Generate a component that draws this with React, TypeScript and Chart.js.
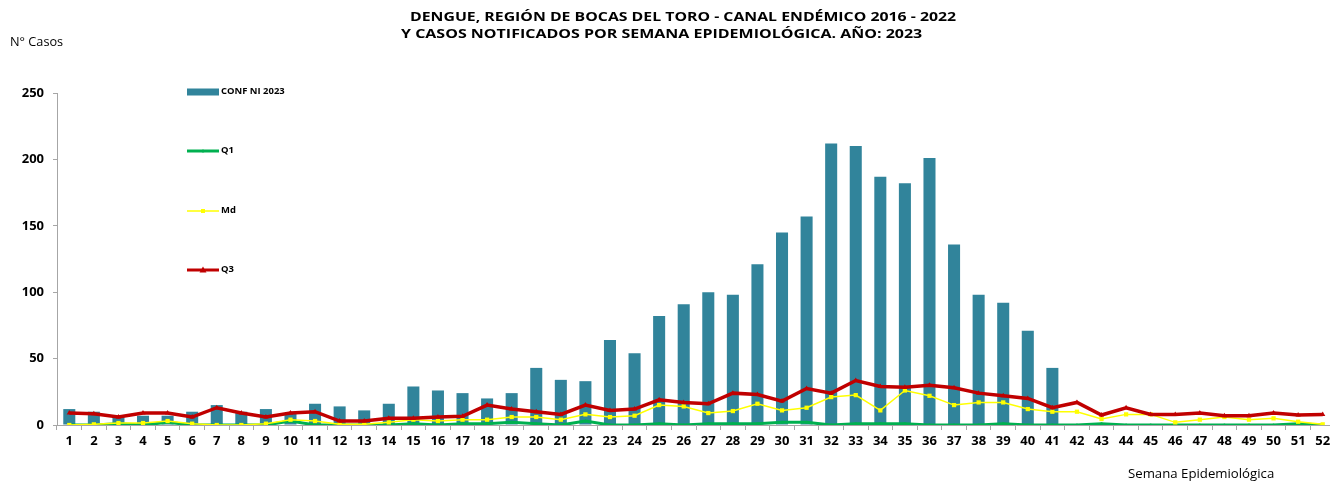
import React, { useEffect, useRef } from 'react';
import { Chart, registerables } from 'chart.js';

Chart.register(...registerables);

const weeks: string[] = [
  '1','2','3','4','5','6','7','8','9','10','11','12','13','14','15','16','17','18','19','20','21','22','23','24','25','26',
  '27','28','29','30','31','32','33','34','35','36','37','38','39','40','41','42','43','44','45','46','47','48','49','50','51','52',
];

const confNi2023: (number | null)[] = [
  12, 10, 7, 7, 7, 10, 15, 10, 12, 9, 16, 14, 11, 16, 29, 26, 24, 20, 24, 43, 34, 33, 64, 54, 82, 91,
  100, 98, 121, 145, 157, 212, 210, 187, 182, 201, 136, 98, 92, 71, 43, 0, 0, 0, 0, 0, 0, 0, 0, 0, 0, 0,
];

const q1: number[] = [
  0, 0, 1, 0, 2, 0, 0, 0, 0, 3, 0, 0, 0, 0, 1, 0, 1, 1, 2, 1, 0, 3, 0, 0, 1, 0,
  1, 1, 1, 2, 2, 0, 1, 1, 1, 0, 0, 0, 1, 0, 0, 0, 1, 0, 0, 0, 0, 0, 0, 0, 1, 0,
];

const md: number[] = [
  0, 0.5, 1.5, 1.5, 3, 1, 0, 0, 1, 4, 3, 0.5, 0.5, 2, 4, 3, 4, 4, 6, 6, 4, 8, 6, 7, 15, 14,
  9, 10.5, 16, 11, 13, 21, 22.5, 11, 26, 22, 15, 17, 17, 12, 10, 10, 4.5, 8, 8, 2, 4, 6, 4, 5, 2.5, 0.5,
];

const q3: number[] = [
  9, 8.5, 6, 9, 9, 6, 13, 9, 6, 9, 10, 3, 3, 5, 5, 6, 6.5, 15, 12, 10, 8, 15, 11, 12, 19, 17,
  16, 24, 23, 18, 27.5, 24, 33.5, 29, 28.5, 30, 28, 24, 22, 20, 13, 17, 7.5, 13, 8, 8, 9, 7, 7, 9, 7.5, 8,
];

const yTicks: number[] = [0, 50, 100, 150, 200, 250];

const legendLabels: string[] = ['CONF NI 2023', 'Q1', 'Md', 'Q3'];

const BAR_COLOR = '#31849B';
const Q1_COLOR = '#00B050';
const MD_COLOR = '#FFFF00';
const Q3_COLOR = '#C00000';

const FONT = '"Open Sans", "DejaVu Sans", sans-serif';

const legendPlugin = {
  id: 'customLegend',
  afterDraw(chart: any) {
    const ctx = chart.ctx as CanvasRenderingContext2D;
    const x0 = 187;
    const ys = [92, 151, 211, 270];
    const boxW = 32;
    ctx.save();
    ys.forEach((y, i) => {
      if (i === 0) {
        ctx.fillStyle = BAR_COLOR;
        ctx.fillRect(x0, y - 3.5, boxW, 7);
      } else {
        const color = i === 1 ? Q1_COLOR : i === 2 ? MD_COLOR : Q3_COLOR;
        ctx.strokeStyle = color;
        ctx.lineWidth = i === 2 ? 1.5 : 3;
        ctx.beginPath();
        ctx.moveTo(x0, y);
        ctx.lineTo(x0 + boxW, y);
        ctx.stroke();
        ctx.fillStyle = color;
        const cx = x0 + boxW / 2;
        if (i === 2) {
          ctx.fillRect(cx - 2, y - 2, 4, 4);
        } else if (i === 3) {
          ctx.beginPath();
          ctx.moveTo(cx, y - 3.5);
          ctx.lineTo(cx + 3.5, y + 2.5);
          ctx.lineTo(cx - 3.5, y + 2.5);
          ctx.closePath();
          ctx.fill();
        } else {
          ctx.beginPath();
          ctx.arc(cx, y, 1.5, 0, Math.PI * 2);
          ctx.fill();
        }
      }
      ctx.save();
      ctx.translate(x0 + boxW + 2, y);
      ctx.scale(1.18, 1);
      ctx.fillStyle = '#000';
      ctx.font = 'bold 8px ' + FONT;
      ctx.textBaseline = 'middle';
      ctx.textAlign = 'left';
      ctx.fillText(legendLabels[i], 0, 0);
      ctx.restore();
    });
    ctx.restore();
  },
};

function ChartCanvas() {
  const ref = useRef<HTMLCanvasElement | null>(null);
  useEffect(() => {
    if (!ref.current) return;
    const chart = new Chart(ref.current, {
      type: 'bar',
      data: {
        labels: weeks,
        datasets: [
          {
            type: 'bar',
            label: legendLabels[0],
            data: confNi2023,
            backgroundColor: BAR_COLOR,
            borderWidth: 0,
            categoryPercentage: 1,
            barPercentage: 0.49,
            order: 4,
          },
          {
            type: 'line',
            label: legendLabels[1],
            data: q1,
            borderColor: Q1_COLOR,
            backgroundColor: Q1_COLOR,
            borderWidth: 3,
            pointRadius: 1.5,
            pointBorderWidth: 0,
            tension: 0,
            order: 3,
          },
          {
            type: 'line',
            label: legendLabels[2],
            data: md,
            borderColor: MD_COLOR,
            backgroundColor: MD_COLOR,
            borderWidth: 1.5,
            pointStyle: 'rect',
            pointRadius: 3,
            pointBorderWidth: 0,
            tension: 0,
            order: 2,
          },
          {
            type: 'line',
            label: legendLabels[3],
            data: q3,
            borderColor: Q3_COLOR,
            backgroundColor: Q3_COLOR,
            borderWidth: 3.5,
            pointStyle: 'triangle',
            pointRadius: 3,
            pointBorderWidth: 0,
            tension: 0,
            order: 1,
          },
        ],
      },
      options: {
        animation: false,
        responsive: false,
        devicePixelRatio: 1,
        layout: { padding: { top: 93, left: 0, right: 0, bottom: 0 } },
        plugins: {
          legend: { display: false },
          title: { display: false },
          tooltip: { enabled: false },
        },
        scales: {
          x: {
            offset: true,
            grid: {
              offset: true,
              drawOnChartArea: false,
              drawTicks: true,
              tickLength: 5,
              color: '#A6A6A6',
            },
            border: { color: '#A6A6A6', width: 1 },
            ticks: {
              color: '#000',
              font: { family: FONT, size: 13, weight: 'bold' },
              maxRotation: 0,
              autoSkip: false,
              padding: 3,
            },
            afterFit(scale: any) {
              scale.height = 56;
            },
          },
          y: {
            min: 0,
            max: 250,
            afterBuildTicks(scale: any) {
              scale.ticks = yTicks.map((v) => ({ value: v }));
            },
            grid: {
              drawOnChartArea: false,
              drawTicks: true,
              tickLength: 4,
              color: '#A6A6A6',
            },
            border: { color: '#A6A6A6', width: 1 },
            ticks: {
              color: '#000',
              font: { family: FONT, size: 13, weight: 'bold' },
              padding: 9,
            },
            afterFit(scale: any) {
              scale.width = 57;
            },
          },
        },
      },
      plugins: [legendPlugin],
    } as any);
    return () => chart.destroy();
  }, []);
  return <canvas ref={ref} width={1339} height={481} style={{ display: 'block' }} />;
}

const textBase: React.CSSProperties = {
  position: 'absolute',
  whiteSpace: 'nowrap',
  color: '#000',
  transformOrigin: 'left center',
};

export default function App() {
  return (
    <div
      style={{
        position: 'fixed',
        left: 0,
        top: 0,
        width: 1330,
        height: 481,
        overflow: 'hidden',
        background: '#fff',
        fontFamily: FONT,
      }}
    >
      <div style={{ position: 'absolute', left: 0, top: 0, width: 1339, height: 481 }}>
        <ChartCanvas />
      </div>
      <div
        style={{
          ...textBase,
          left: 410,
          top: 8,
          fontSize: 13,
          fontWeight: 'bold',
          lineHeight: '16px',
          transform: 'scaleX(1.217)',
        }}
      >
        DENGUE, REGIÓN DE BOCAS DEL TORO - CANAL ENDÉMICO 2016 - 2022
      </div>
      <div
        style={{
          ...textBase,
          left: 401,
          top: 25,
          fontSize: 13,
          fontWeight: 'bold',
          lineHeight: '16px',
          transform: 'scaleX(1.23)',
        }}
      >
        Y CASOS NOTIFICADOS POR SEMANA EPIDEMIOLÓGICA. AÑO: 2023
      </div>
      <div
        style={{
          ...textBase,
          left: 10,
          top: 34,
          fontSize: 12,
          lineHeight: '16px',
          transform: 'scaleX(1.06)',
        }}
      >
        N° Casos
      </div>
      <div
        style={{
          ...textBase,
          left: 1128,
          top: 466,
          fontSize: 12,
          lineHeight: '16px',
          transform: 'scaleX(1.1)',
        }}
      >
        Semana Epidemiológica
      </div>
    </div>
  );
}
